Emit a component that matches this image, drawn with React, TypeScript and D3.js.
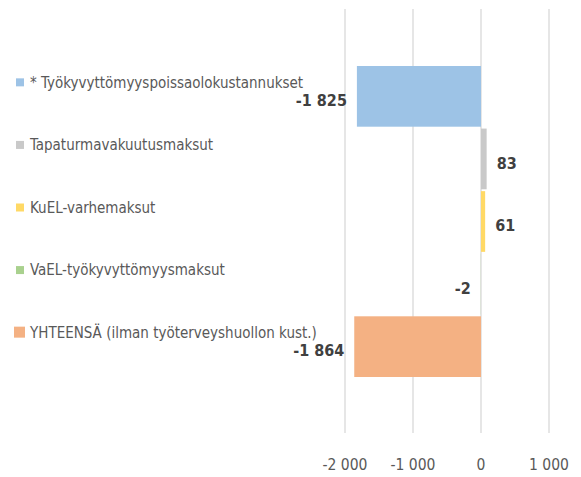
import React, { useRef, useEffect } from "react";
import * as d3 from "d3";

const categories = [
  "* Työkyvyttömyyspoissaolokustannukset",
  "Tapaturmavakuutusmaksut",
  "KuEL-varhemaksut",
  "VaEL-työkyvyttömyysmaksut",
  "YHTEENSÄ (ilman työterveyshuollon kust.)",
];
const values = [-1825, 83, 61, -2, -1864];
const colors = ["#9DC3E6", "#C9C9C9", "#FFD966", "#A9D18E", "#F4B183"];
const ticks = [-2000, -1000, 0, 1000];

export default function App() {
  const ref = useRef<SVGSVGElement>(null);

  useEffect(() => {
    const svg = d3.select(ref.current);
    svg.selectAll("*").remove();

    const fmt = d3
      .formatLocale({ decimal: ",", thousands: "\u00a0", grouping: [3], currency: ["", "€"], minus: "-" })
      .format(",d");

    const x = d3.scaleLinear().domain([-2000, 1000]).range([345, 549]);
    const y = d3.scaleBand().domain(categories).range([66, 377]).paddingInner(0.03);

    const font = "'Liberation Sans Narrow', 'DejaVu Sans Condensed', 'Open Sans', sans-serif";

    // gridlines
    svg
      .append("g")
      .selectAll("line")
      .data(ticks)
      .join("line")
      .attr("x1", (d) => x(d))
      .attr("x2", (d) => x(d))
      .attr("y1", 9)
      .attr("y2", 433)
      .attr("stroke", "#D9D9D9")
      .attr("stroke-width", 1.3);

    // tick labels
    svg
      .append("g")
      .selectAll("text")
      .data(ticks)
      .join("text")
      .attr("x", (d) => x(d))
      .attr("y", 465)
      .attr("dy", "0.35em")
      .attr("text-anchor", "middle")
      .style("font-family", font)
      .style("font-size", "15.5px")
      .attr("fill", "#595959")
      .text((d) => fmt(d));

    const data = categories.map((c, i) => ({ c, v: values[i], col: colors[i] }));

    // bars
    svg
      .append("g")
      .selectAll("rect")
      .data(data)
      .join("rect")
      .attr("x", (d) => x(Math.min(0, d.v)))
      .attr("y", (d) => y(d.c)!)
      .attr("width", (d) => Math.abs(x(d.v) - x(0)))
      .attr("height", y.bandwidth())
      .attr("fill", (d) => d.col);

    // value labels
    svg
      .append("g")
      .selectAll("text")
      .data(data)
      .join("text")
      .attr("x", (d) => (d.v < 0 ? x(d.v) - 10 : x(d.v) + 10))
      .attr("y", (d) => y(d.c)! + y.bandwidth() / 2 + 4)
      .attr("dy", "0.35em")
      .attr("text-anchor", (d) => (d.v < 0 ? "end" : "start"))
      .style("font-family", font)
      .style("font-size", "16px")
      .style("font-weight", "bold")
      .attr("fill", "#404040")
      .text((d) => fmt(d.v));

    // category legend-style labels
    const lab = svg
      .append("g")
      .selectAll("g")
      .data(data)
      .join("g")
      .attr("transform", (d) => `translate(0,${y(d.c)! + y.bandwidth() / 2 - 14})`);

    lab
      .append("rect")
      .attr("x", (d, i) => (i === 4 ? 14 : 16))
      .attr("y", (d, i) => (i === 4 ? -6 : -4))
      .attr("width", (d, i) => (i === 4 ? 11 : 8))
      .attr("height", (d, i) => (i === 4 ? 11 : 8))
      .attr("fill", (d) => d.col);

    lab
      .append("text")
      .attr("x", 30)
      .attr("dy", "0.35em")
      .style("font-family", font)
      .style("font-size", "15px")
      .attr("fill", "#595959")
      .text((d) => d.c);
  }, []);

  return (
    <svg
      ref={ref}
      width={581}
      height={477}
      style={{ position: "absolute", left: 0, top: 0, background: "#fff" }}
    />
  );
}
